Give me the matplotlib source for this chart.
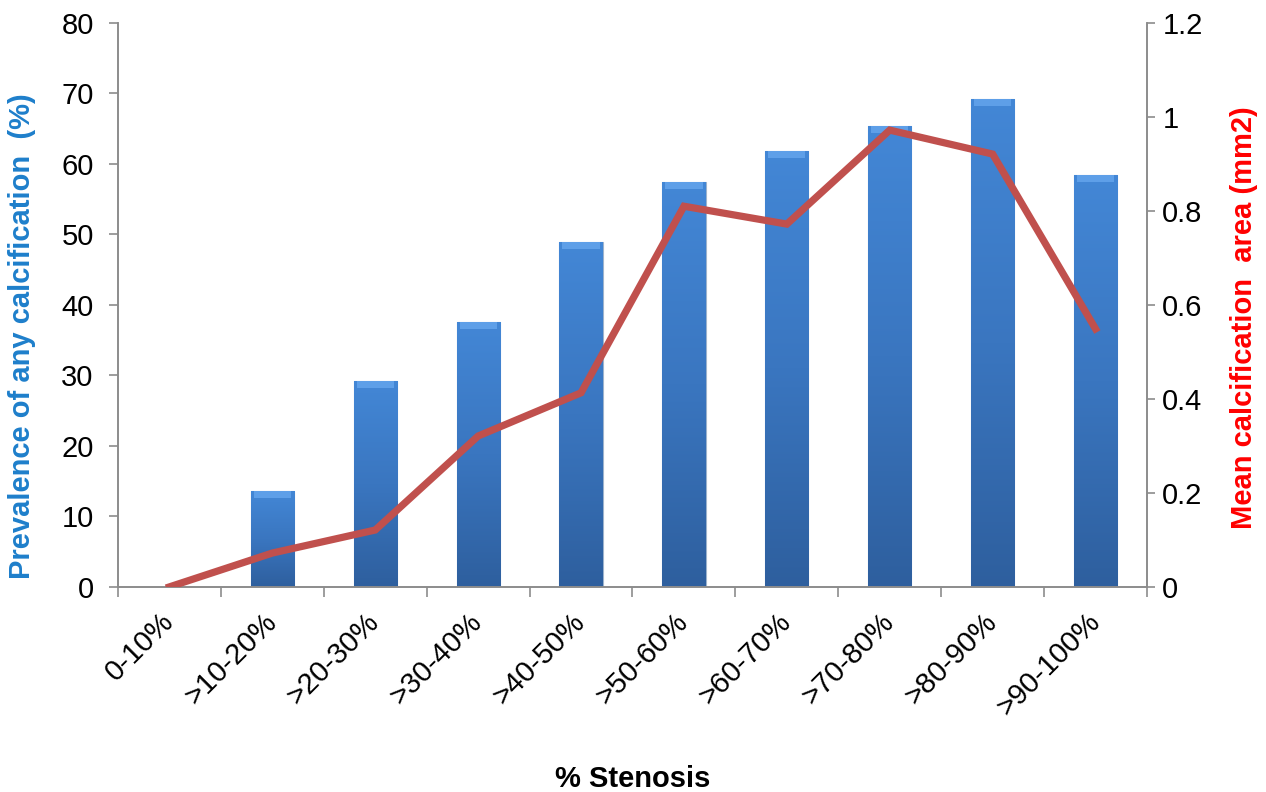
import numpy as np
import matplotlib
matplotlib.use("Agg")
import matplotlib.pyplot as plt
from matplotlib.colors import LinearSegmentedColormap

plt.rcParams["font.family"] = ["Liberation Sans", "DejaVu Sans"]

# data
categories = ["0-10%", ">10-20%", ">20-30%", ">30-40%", ">40-50%",
              ">50-60%", ">60-70%", ">70-80%", ">80-90%", ">90-100%"]
prevalence = [0, 13.6, 29.2, 37.6, 48.9, 57.5, 61.9, 65.4, 69.2, 58.4]
mean_area = [0, 0.072, 0.121, 0.321, 0.413, 0.81, 0.772, 0.972, 0.921, 0.549]

fig = plt.figure(figsize=(12.66, 7.92), dpi=100)
ax = fig.add_axes([0.0932, 0.259, 0.8128, 0.712])
ax2 = ax.twinx()

x = np.arange(len(categories))
bar_w = 0.42

# gradient bars
cmap = LinearSegmentedColormap.from_list("barblue", ["#2E5F9E", "#3A76C0", "#4387D6"])
grad = np.linspace(0, 1, 256).reshape(-1, 1)
bars = ax.bar(x, prevalence, width=bar_w, color="#3B78C4",
              edgecolor="#9DB3CC", linewidth=0.8, zorder=2)
for b in bars:
    if b.get_height() <= 0:
        continue
    bx, by = b.get_x(), b.get_y()
    im = ax.imshow(grad, cmap=cmap, aspect="auto", origin="lower",
                   extent=[bx, bx + b.get_width(), by, by + b.get_height()],
                   zorder=2.1)
    im.set_clip_path(b)
# lighter bevel on top of each bar
cap = [1.0 if v > 0 else 0 for v in prevalence]
ax.bar(x, cap, width=bar_w * 0.86, bottom=[v - c for v, c in zip(prevalence, cap)],
       color="#5E9FE8", linewidth=0, zorder=2.2)

ax.set_xlim(-0.5, len(categories) - 0.5)
ax.set_ylim(0, 80)
ax.set_yticks(range(0, 81, 10))
ax.set_xticks(x)
ax.set_xticklabels(categories, rotation=45, ha="right", va="center",
                   rotation_mode="anchor", fontsize=21)
ax.set_xticks(np.arange(-0.5, len(categories), 1), minor=True)
ax.tick_params(axis="x", which="major", length=0, pad=22)
ax.tick_params(axis="x", which="minor", length=7, color="#8C8C8C", width=1.2)
ax.tick_params(axis="y", labelsize=21, length=6.5, color="#8C8C8C", width=1.2, pad=11)

ax2.plot(x, mean_area, color="#C0504D", linewidth=5.2, solid_joinstyle="miter",
         zorder=3)
ax2.set_ylim(0, 1.2)
ax2.set_yticks([0, 0.2, 0.4, 0.6, 0.8, 1.0, 1.2])
ax2.set_yticklabels(["0", "0.2", "0.4", "0.6", "0.8", "1", "1.2"])
ax2.tick_params(axis="y", labelsize=21, length=6, color="#8C8C8C", width=1.2, pad=5)

for a in (ax, ax2):
    a.spines["top"].set_visible(False)
    for s in ("left", "right", "bottom"):
        a.spines[s].set_color("#8C8C8C")
        a.spines[s].set_linewidth(1.2)

ax.set_ylabel("Prevalence of any calcification  (%)", fontsize=21, fontweight="bold",
              color="#1E7FCB")
ax.yaxis.set_label_coords(-0.0795, 0.445)
ax2.set_ylabel("Mean calcification  area (mm2)", fontsize=21, fontweight="bold",
               color="#FF0000")
ax2.yaxis.set_label_coords(1.0807, 0.477)
fig.text(0.5, 0.006, "% Stenosis", fontsize=21, fontweight="bold",
         ha="center", va="baseline")

fig.savefig("out.png", dpi=100)
